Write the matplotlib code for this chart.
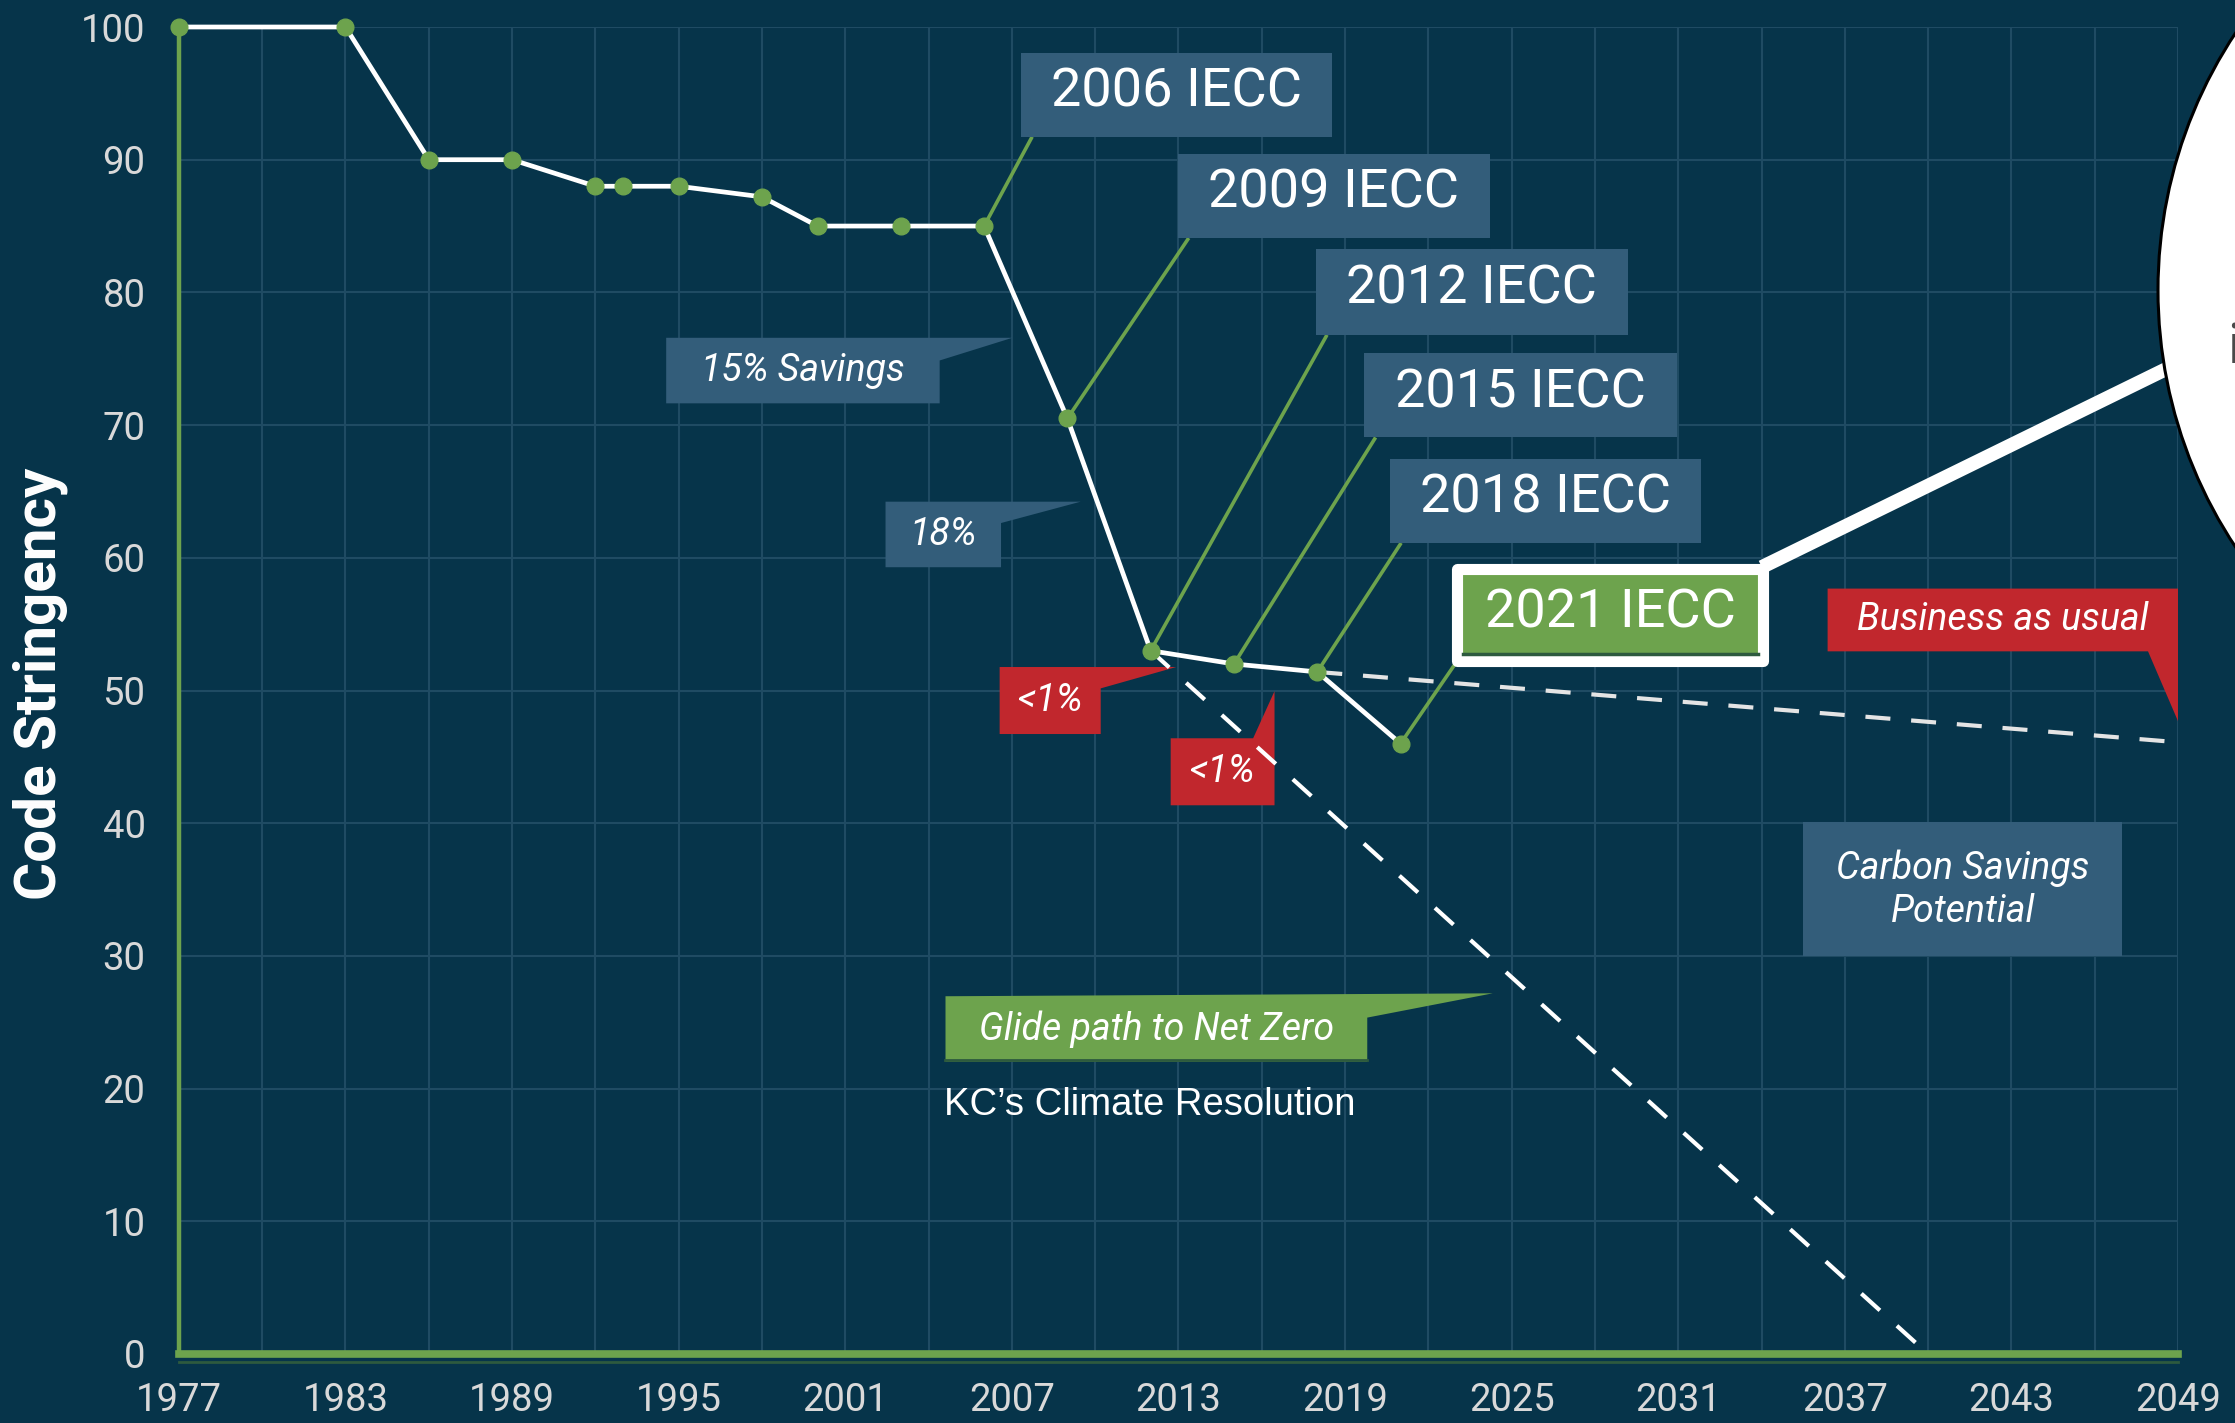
import matplotlib
matplotlib.use("Agg")
import matplotlib.pyplot as plt
from matplotlib.patches import Polygon, Rectangle, Ellipse

# ---------------- data ----------------
years = [1977, 1983, 1986, 1989, 1992, 1993, 1995, 1998, 2000, 2003, 2006, 2009, 2012, 2015, 2018, 2021]
stringency = [100, 100, 90, 90, 88, 88, 88, 87.2, 85, 85, 85, 70.5, 53, 52, 51.4, 46]

bau_years = [2018, 2049]
bau_values = [51.4, 46.1]

glide_years = [2012, 2040]
glide_values = [53, 0]

iecc_labels = ['2006 IECC', '2009 IECC', '2012 IECC', '2015 IECC', '2018 IECC', '2021 IECC']
iecc_years = [2006, 2009, 2012, 2015, 2018, 2021]
iecc_values = [85, 70.5, 53, 52, 51.4, 46]

x_ticks = list(range(1977, 2050, 6))
x_minor = list(range(1977, 2050, 3))
y_ticks = list(range(0, 101, 10))

# ---------------- style ----------------
BG = '#06344a'
GRID = '#1f4b63'
BOX = '#335d7a'
RED = '#c1272d'
GREEN = '#6da34d'
DKGREEN = '#2d5a3e'
TICK = '#d9d9d9'

plt.rcParams['font.family'] = ['Roboto', 'DejaVu Sans']

W, H = 2235, 1423
fig = plt.figure(figsize=(W / 100, H / 100), dpi=100, facecolor=BG)
ax = fig.add_axes([178.9 / W, 1 - 1354 / H, (2178 - 178.9) / W, (1354 - 27) / H])
ax.set_facecolor(BG)
ax.set_xlim(1977, 2049)
ax.set_ylim(0, 100)
ax.set_xticks(x_ticks)
ax.set_xticklabels([str(t) for t in x_ticks])
ax.set_xticks(x_minor, minor=True)
ax.set_yticks(y_ticks)
ax.set_yticklabels([str(t) for t in y_ticks])
ax.grid(which='both', color=GRID, lw=1.5, zorder=0)
ax.set_axisbelow(True)
ax.tick_params(axis='both', which='both', length=0, colors=TICK, labelsize=27.5)
ax.tick_params(axis='y', pad=24)
ax.tick_params(axis='x', pad=20)
for s in ['top', 'right']:
    ax.spines[s].set_visible(False)
ax.spines['left'].set_color(GREEN)
ax.spines['left'].set_linewidth(3.2)
ax.spines['left'].set_zorder(3)
ax.spines['bottom'].set_color(GREEN)
ax.spines['bottom'].set_linewidth(5.5)
ax.spines['bottom'].set_zorder(3)
ax.plot([0, 1], [-0.0058, -0.0058], transform=ax.transAxes, color=DKGREEN,
        lw=2, clip_on=False, zorder=3)

fig.text(40 / W, 1 - 684 / H, 'Code Stringency', rotation=90, color='white',
         fontsize=42, fontweight='bold', ha='center', va='center')

# ---------------- lines ----------------
ax.plot(bau_years, bau_values, color='#e4e4e4', lw=3, dashes=(6, 5), zorder=3)
ax.plot(glide_years, glide_values, color='white', lw=3, dashes=(6, 5.5), zorder=4.6)


def callout(verts, color, z=4):
    ax.add_patch(Polygon(verts, closed=True, facecolor=color, edgecolor='none', zorder=z))


# 15% Savings
x0, x1, yt, yb = 1994.55, 2004.40, 76.58, 71.64
callout([(x0, yb), (x1, yb), (x1, 74.87), (2007.02, yt), (x0, yt)], BOX)
ax.text((x0 + x1) / 2, (yt + yb) / 2, '15% Savings', color='white', fontsize=27,
        fontstyle='italic', ha='center', va='center', zorder=5)

# 18%
x0, x1, yt, yb = 2002.45, 2006.61, 64.23, 59.29
callout([(x0, yb), (x1, yb), (x1, 62.62), (2009.48, yt), (x0, yt)], BOX)
ax.text((x0 + x1) / 2, (yt + yb) / 2, '18%', color='white', fontsize=27,
        fontstyle='italic', ha='center', va='center', zorder=5)

# <1% (a)
x0, x1, yt, yb = 2006.56, 2010.20, 51.77, 46.72
callout([(x0, yb), (x1, yb), (x1, 50.16), (2012.92, yt), (x0, yt)], RED)
ax.text((x0 + x1) / 2, (yt + yb) / 2, '<1%', color='white', fontsize=27,
        fontstyle='italic', ha='center', va='center', zorder=5)

# <1% (b)
x0, x1, yt, yb = 2012.72, 2016.46, 46.40, 41.35
callout([(x0, yb), (x1, yb), (x1, 49.95), (2015.69, yt), (x0, yt)], RED)
ax.text((x0 + x1) / 2, (yt + yb) / 2, '<1%', color='white', fontsize=27,
        fontstyle='italic', ha='center', va='center', zorder=5)

# Business as usual
x0, x1, yt, yb = 2036.38, 2049.0, 57.68, 52.95
callout([(x0, yt), (x1, yt), (x1, 47.69), (2047.92, yb), (x0, yb)], RED)
ax.text((x0 + x1) / 2, (yt + yb) / 2, 'Business as usual', color='white', fontsize=27,
        fontstyle='italic', ha='center', va='center', zorder=5)

# Carbon Savings Potential
x0, x1, yt, yb = 2035.50, 2047.0, 40.06, 29.97
callout([(x0, yb), (x1, yb), (x1, yt), (x0, yt)], BOX)
ax.text((x0 + x1) / 2, (yt + yb) / 2, 'Carbon Savings\nPotential', color='white',
        fontsize=27, fontstyle='italic', ha='center', va='center', linespacing=1.2, zorder=5)

# Glide path
x0, x1, yt, yb = 2004.61, 2019.80, 26.96, 22.02
callout([(x0, yb), (x1, yb), (x1, 25.35), (2024.32, 27.18), (x0, yt)], GREEN)
ax.plot([x0, x1], [yb + 0.12, yb + 0.12], color=DKGREEN, lw=2, zorder=4.2)
ax.text((x0 + x1) / 2, (yt + yb) / 2, 'Glide path to Net Zero', color='white', fontsize=27,
        fontstyle='italic', ha='center', va='center', zorder=5)

ax.text(2004.56, 18.04, 'KC\u2019s Climate Resolution', color='white', fontsize=27.5,
        family=['Liberation Sans', 'DejaVu Sans'], ha='left', va='baseline', zorder=5)

# ---------------- IECC labels ----------------
iecc_boxes = [
    (2007.33, 2018.52, 91.73, 98.07),
    (2012.97, 2024.21, 84.10, 90.44),
    (2017.95, 2029.19, 76.80, 83.24),
    (2019.70, 2030.94, 69.07, 75.40),
    (2020.62, 2031.81, 61.12, 67.45),
    (2023.03, 2034.06, 52.20, 59.13),
]
for i, (lab, (bx0, bx1, by0, by1)) in enumerate(zip(iecc_labels, iecc_boxes)):
    last = i == len(iecc_labels) - 1
    lx = bx0 + (0.0 if last else 0.4)
    ax.plot([lx, iecc_years[i]], [by0, iecc_values[i]], color=GREEN, lw=2.6,
            zorder=4, solid_capstyle='butt')
    if last:
        ax.add_patch(Rectangle((bx0, by0), bx1 - bx0, by1 - by0, facecolor=GREEN,
                               edgecolor='white', lw=8, joinstyle='round', zorder=8))
        ax.plot([bx0 + 0.21, bx1 - 0.2], [52.78, 52.78], color=DKGREEN, lw=2.5, zorder=8.5)
        # thick connector to the circle
        ax.plot([2034.01, 2050.6], [59.3, 76.3], color='white', lw=10,
                solid_capstyle='butt', zorder=7.5, clip_on=False)
    else:
        ax.add_patch(Rectangle((bx0, by0), bx1 - bx0, by1 - by0, facecolor=BOX,
                               edgecolor='none', zorder=6))
    ax.text((bx0 + bx1) / 2, (by0 + by1) / 2 + 0.2, lab, color='white', fontsize=39,
            fontweight='normal', ha='center', va='center', zorder=9)

# ---------------- main series ----------------
ax.plot(years, stringency, color='white', lw=3.4, zorder=5, solid_joinstyle='round',
        clip_on=False)
ax.plot(years, stringency, 'o', color=GREEN, ms=12, mec=GREEN, zorder=6, clip_on=False)

# ---------------- circle callout on the right ----------------
ell = Ellipse((2623 / W, 1 - 290 / H), 2 * 465 / W, 2 * 465 / H, transform=fig.transFigure,
              facecolor='white', edgecolor='black', lw=2.2, zorder=10)
fig.add_artist(ell)
fig.text(2227 / W, 1 - 363 / H, 'i', color='#4a4a4a', fontsize=40, ha='left',
         va='baseline', zorder=11)

fig.savefig('out.png', dpi=100, facecolor=BG)
